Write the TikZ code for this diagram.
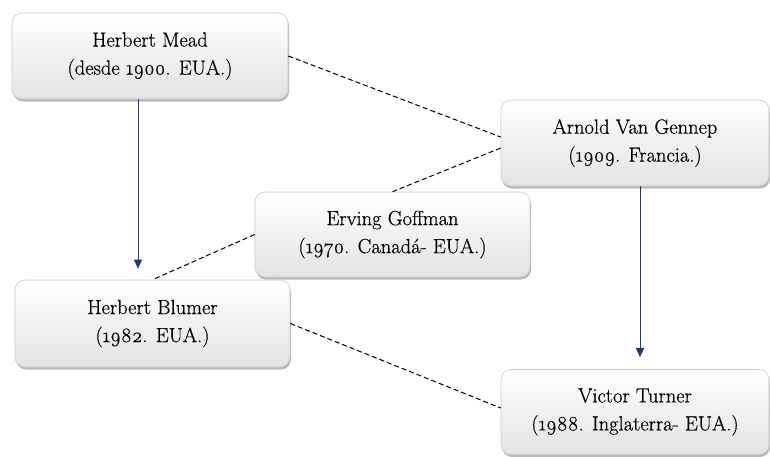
\documentclass[tikz,border=0pt]{standalone}
\usepackage{fontspec}
\setmainfont{Latin Modern Roman}[Numbers=OldStyle, FakeBold=0.5]
\usetikzlibrary{shadows,calc,arrows.meta}
\definecolor{arrblue}{HTML}{1F3A7A}
\definecolor{boxline}{HTML}{C8C8C8}
\tikzset{
  card/.style={draw=boxline, line width=0.6pt, rounded corners=10pt,
    top color=white, bottom color=black!11, align=center,
    font=\fontsize{20.5}{28}\selectfont, text=black,
    drop shadow={shadow xshift=1pt, shadow yshift=-2.5pt, opacity=0.45, fill=black!60},
    inner sep=0pt},
  link/.style={draw=black, line width=1pt, dash pattern=on 5pt off 3pt},
  arr/.style={draw=arrblue, line width=0.7pt, -{Triangle[width=8pt,length=9pt]}}
}
\begin{document}
\begin{tikzpicture}[x=1pt,y=-1pt]
\useasboundingbox (0,0) rectangle (770,456);
\node[card, minimum width=276pt, minimum height=86pt] (m) at (150,56)
  {Herbert Mead\\(desde 1900. EUA.)};
\node[card, minimum width=268pt, minimum height=86pt] (v) at (635,143)
  {Arnold Van Gennep\\(1909. Francia.)};
\node[card, minimum width=275pt, minimum height=85pt] (g) at (392.5,234.5)
  {Erving Goffman\\(1970. Canadá- EUA.)};
\node[card, minimum width=275pt, minimum height=87pt] (b) at (152.5,323.5)
  {Herbert Blumer\\(1982. EUA.)};
\node[card, minimum width=268pt, minimum height=85pt] (t) at (635,412)
  {Victor Turner\\(1988. Inglaterra- EUA.)};
\draw[arr, shorten >=11pt] ($(m.south)+(-12,0)$) -- ($(b.north)+(-14.5,0)$);
\draw[arr, shorten >=12pt] ($(v.south)+(5,0)$) -- ($(t.north)+(5,0)$);
\draw[link] (m.east) -- ($(v.west)+(0,-6)$);
\draw[link] ($(v.west)+(0,5)$) -- (g.north);
\draw[link] (g.west) -- (b.north);
\draw[link] (b.east) -- ($(t.west)+(0,-4)$);
\end{tikzpicture}
\end{document}
